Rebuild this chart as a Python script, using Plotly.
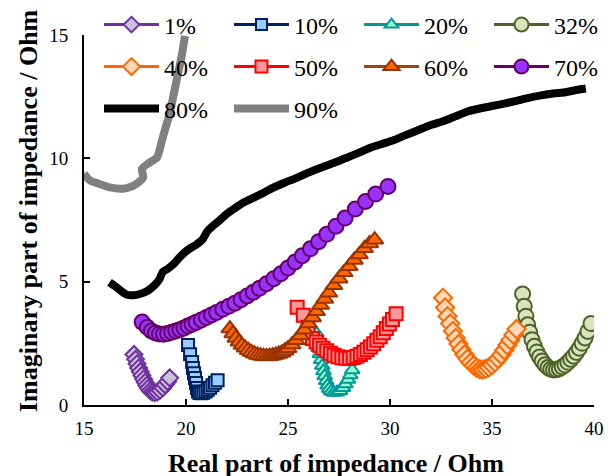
import plotly.graph_objects as go

# ---------------- data ----------------
names = ["1%", "10%", "20%", "32%", "40%", "50%", "60%", "70%", "80%", "90%"]

x_1 = [17.45, 17.53, 17.6, 17.68, 17.76, 17.84, 17.92, 18.0, 18.08, 18.16, 18.25, 18.35, 18.47, 18.6, 18.73, 18.86, 18.98, 19.1, 19.2]
y_1 = [2.05, 1.85, 1.67, 1.5, 1.35, 1.2, 1.05, 0.92, 0.8, 0.68, 0.58, 0.52, 0.5, 0.53, 0.6, 0.7, 0.82, 0.95, 1.1]

x_10 = [20.1, 20.2, 20.3, 20.34, 20.39, 20.44, 20.49, 20.54, 20.59, 20.66, 20.75, 20.85, 20.96, 21.07, 21.18, 21.3, 21.42, 21.55]
y_10 = [2.43, 2.06, 1.74, 1.5, 1.29, 1.09, 0.89, 0.69, 0.55, 0.49, 0.48, 0.5, 0.55, 0.62, 0.7, 0.8, 0.9, 1.0]

x_20 = [26.4, 26.45, 26.5, 26.56, 26.62, 26.68, 26.74, 26.8, 26.87, 26.94, 27.02, 27.12, 27.25, 27.4, 27.55, 27.7, 27.82, 27.94, 28.05, 28.15]
y_20 = [2.9, 2.6, 2.32, 2.07, 1.83, 1.6, 1.38, 1.18, 0.98, 0.8, 0.66, 0.56, 0.51, 0.52, 0.58, 0.7, 0.85, 1.03, 1.22, 1.42]

x_32 = [36.5, 36.58, 36.66, 36.75, 36.85, 36.96, 37.08, 37.2, 37.33, 37.46, 37.6, 37.74, 37.88, 38.02, 38.16, 38.3, 38.44, 38.58, 38.72, 38.86, 39.0, 39.14, 39.28, 39.42, 39.56, 39.7, 39.85]
y_32 = [4.5, 4.0, 3.6, 3.25, 2.95, 2.65, 2.38, 2.15, 1.95, 1.78, 1.63, 1.52, 1.45, 1.42, 1.43, 1.47, 1.54, 1.62, 1.73, 1.85, 1.98, 2.13, 2.3, 2.5, 2.72, 2.98, 3.3]

x_40 = [32.6, 32.7, 32.82, 32.95, 33.08, 33.22, 33.36, 33.5, 33.65, 33.8, 33.95, 34.1, 34.25, 34.4, 34.55, 34.7, 34.85, 35.0, 35.15, 35.3, 35.45, 35.6, 35.75, 35.9, 36.05, 36.2]
y_40 = [4.35, 3.95, 3.6, 3.3, 3.0, 2.72, 2.47, 2.25, 2.05, 1.87, 1.72, 1.6, 1.5, 1.45, 1.44, 1.47, 1.53, 1.62, 1.73, 1.87, 2.03, 2.22, 2.42, 2.63, 2.85, 3.08]

x_50 = [25.45, 25.75, 25.98, 26.2, 26.38, 26.55, 26.72, 26.9, 27.08, 27.26, 27.45, 27.64, 27.83, 28.02, 28.2, 28.38, 28.55, 28.72, 28.88, 29.04, 29.2, 29.36, 29.52, 29.67, 29.82, 29.97, 30.12, 30.3]
y_50 = [3.96, 3.64, 3.15, 2.7, 2.55, 2.42, 2.3, 2.2, 2.1, 2.02, 1.96, 1.92, 1.9, 1.9, 1.93, 1.98, 2.05, 2.14, 2.24, 2.35, 2.48, 2.62, 2.77, 2.93, 3.1, 3.28, 3.47, 3.7]

x_60 = [22.15, 22.3, 22.45, 22.6, 22.75, 22.9, 23.05, 23.2, 23.35, 23.5, 23.65, 23.8, 23.95, 24.1, 24.25, 24.4, 24.55, 24.7, 24.85, 25.0, 25.2, 25.4, 25.6, 25.8, 26.0, 26.2, 26.4, 26.6, 26.8, 27.0, 27.25, 27.5, 27.75, 28.0, 28.25, 28.5, 28.75, 29.0, 29.25]
y_60 = [3.1, 2.9, 2.72, 2.56, 2.43, 2.32, 2.22, 2.14, 2.08, 2.03, 2.0, 1.98, 1.97, 1.98, 2.0, 2.03, 2.07, 2.12, 2.2, 2.3, 2.45, 2.62, 2.82, 3.05, 3.3, 3.55, 3.8, 4.05, 4.3, 4.55, 4.85, 5.12, 5.38, 5.62, 5.88, 6.1, 6.35, 6.55, 6.7]

x_70 = [17.85, 18.1, 18.3, 18.5, 18.7, 18.9, 19.1, 19.3, 19.5, 19.7, 19.9, 20.1, 20.3, 20.5, 20.75, 21.0, 21.25, 21.5, 21.8, 22.1, 22.4, 22.7, 23.0, 23.3, 23.6, 23.95, 24.3, 24.65, 25.0, 25.35, 25.7, 26.1, 26.5, 26.9, 27.35, 27.8, 28.3, 28.8, 29.3, 29.9]
y_70 = [3.36, 3.15, 3.0, 2.92, 2.88, 2.87, 2.9, 2.95, 3.0, 3.05, 3.12, 3.2, 3.27, 3.35, 3.45, 3.55, 3.65, 3.75, 3.88, 4.0, 4.13, 4.27, 4.42, 4.57, 4.73, 4.92, 5.12, 5.32, 5.55, 5.8, 6.05, 6.33, 6.62, 6.92, 7.25, 7.58, 7.95, 8.25, 8.55, 8.86]

x_80 = [16.25, 16.55, 16.85, 17.1, 17.4, 17.75, 18.1, 18.45, 18.7, 18.85, 19.1, 19.4, 19.7, 19.95, 20.2, 20.5, 20.8, 21.05, 21.3, 21.6, 22.0, 22.4, 22.8, 23.3, 23.8, 24.3, 24.8, 25.4, 26.0, 26.6, 27.2, 27.8, 28.4, 29.0, 29.6, 30.2, 30.8, 31.4, 32.0, 32.6, 33.2, 33.8, 34.4, 35.0, 35.6, 36.2, 36.8, 37.4, 38.0, 38.6, 39.2, 39.6]
y_80 = [4.97, 4.8, 4.6, 4.47, 4.45, 4.5, 4.62, 4.85, 5.1, 5.38, 5.52, 5.72, 6.0, 6.2, 6.35, 6.5, 6.7, 7.05, 7.25, 7.45, 7.75, 7.98, 8.2, 8.4, 8.6, 8.82, 9.0, 9.2, 9.42, 9.62, 9.8, 10.0, 10.2, 10.42, 10.58, 10.74, 10.95, 11.15, 11.35, 11.5, 11.7, 11.9, 12.02, 12.12, 12.22, 12.33, 12.45, 12.55, 12.63, 12.68, 12.78, 12.83]

x_90 = [15.0, 15.3, 15.8, 16.27, 16.9, 17.3, 17.6, 17.9, 17.84, 18.2, 18.58, 18.82, 19.0, 19.2, 19.4, 19.6, 19.8, 19.95]
y_90 = [9.38, 9.1, 8.95, 8.82, 8.77, 8.85, 8.98, 9.22, 9.58, 9.82, 10.03, 10.72, 11.25, 11.8, 12.6, 13.4, 14.2, 14.96]

x_ticks = [15, 20, 25, 30, 35, 40]
y_ticks = [0, 5, 10, 15]

xs = [x_1, x_10, x_20, x_32, x_40, x_50, x_60, x_70, x_80, x_90]
ys = [y_1, y_10, y_20, y_32, y_40, y_50, y_60, y_70, y_80, y_90]

# ---------------- styles ----------------
SERIF = '"Liberation Serif", "Times New Roman", Times, serif'

styles = [
    dict(symbol="diamond", size=13, fill="#CCC0DA", edge="#7030A0", line="#7030A0"),
    dict(symbol="square", size=12, fill="#99CCFF", edge="#002060", line="#002060"),
    dict(symbol="triangle-up", size=13, fill="#99FFCC", edge="#009999", line="#009999"),
    dict(symbol="circle", size=15, fill="#D7E4BD", edge="#4F6228", line="#4F6228"),
    dict(symbol="diamond", size=14, fill="#FFD9B8", edge="#FF6600", line="#FF6600"),
    dict(symbol="square", size=13, fill="#FF9999", edge="#FF0000", line="#FF0000"),
    dict(symbol="triangle-up", size=15, fill="#FF6600", edge="#993300", line="#A0440A"),
    dict(symbol="circle", size=15, fill="#9933FF", edge="#660066", line="#660066"),
    dict(symbol=None, width=8, line="#000000"),
    dict(symbol=None, width=8, line="#808080"),
]

# legend grid: line-start x pixel of each column, centre y pixel of each row
leg_cols = [105, 235, 365, 495]
leg_rows = [25, 67, 109]

L, R, T, B = 84, 14, 35, 71
W, H = 608, 476
pw, ph = W - L - R, H - T - B


def px2x(px):
    return (px - L) / pw


def py2y(py):
    return (H - B - py) / ph


fig = go.Figure()
legend_layout = {}
for i, (name, x, y, st) in enumerate(zip(names, xs, ys, styles)):
    key = "legend" if i == 0 else "legend%d" % (i + 1)
    col, row = i % 4, i // 4
    legend_layout[key] = dict(
        x=px2x(leg_cols[col] - 6), y=py2y(leg_rows[row]), xanchor="left", yanchor="middle",
        orientation="v", itemwidth=55,
        font=dict(size=24, family=SERIF, color="black"),
        bgcolor="rgba(0,0,0,0)", borderwidth=0,
        itemclick=False, itemdoubleclick=False)
    if st["symbol"] is None:
        fig.add_trace(go.Scatter(x=x, y=y, mode="lines", name=name, legend=key,
                                 line=dict(color=st["line"], width=st["width"], shape="spline", smoothing=0.6)))
    else:
        fig.add_trace(go.Scatter(x=x, y=y, mode="markers", name=name, showlegend=False,
                                 marker=dict(symbol=st["symbol"], size=st["size"], color=st["fill"],
                                             line=dict(color=st["edge"], width=2))))
        # legend entry (line + marker) with no data of its own
        fig.add_trace(go.Scatter(x=[None], y=[None], mode="lines+markers", name=name, legend=key,
                                 line=dict(color=st["line"], width=3),
                                 marker=dict(symbol=st["symbol"], size=st["size"] - 1, color=st["fill"],
                                             line=dict(color=st["edge"], width=2))))

fig.update_layout(
    width=W, height=H,
    margin=dict(l=L, r=R, t=T, b=B, pad=0, autoexpand=False),
    paper_bgcolor="white", plot_bgcolor="white",
    font=dict(family=SERIF, color="black"),
    xaxis=dict(range=[15, 40], tickvals=x_ticks, showline=True, linecolor="black", linewidth=2,
               ticks="inside", ticklen=6, tickwidth=2, tickcolor="black",
               showgrid=False, zeroline=False, tickfont=dict(size=19, family=SERIF, color="black"),
               ticklabelstandoff=5),
    yaxis=dict(range=[0, 15], tickvals=y_ticks, showline=True, linecolor="black", linewidth=2,
               ticks="inside", ticklen=6, tickwidth=2, tickcolor="black",
               showgrid=False, zeroline=False, tickfont=dict(size=19, family=SERIF, color="black"),
               ticklabelstandoff=10),
    annotations=[
        dict(text="<b>Real part of impedance / Ohm</b>", xref="paper", yref="paper",
             x=px2x(336), y=py2y(463), xanchor="center", yanchor="middle", showarrow=False,
             font=dict(size=26, family=SERIF, color="black")),
        dict(text="<b>Imaginary part of impedance / Ohm</b>", xref="paper", yref="paper",
             x=px2x(28), y=py2y(211), xanchor="center", yanchor="middle", showarrow=False,
             textangle=-90, font=dict(size=26, family=SERIF, color="black")),
    ],
    **legend_layout,
)

# the page's default body margin would offset the 608x476 figure inside the window
fig.write_html("out.html", config={"displayModeBar": False},
               post_script="document.body.style.margin='0px';")
